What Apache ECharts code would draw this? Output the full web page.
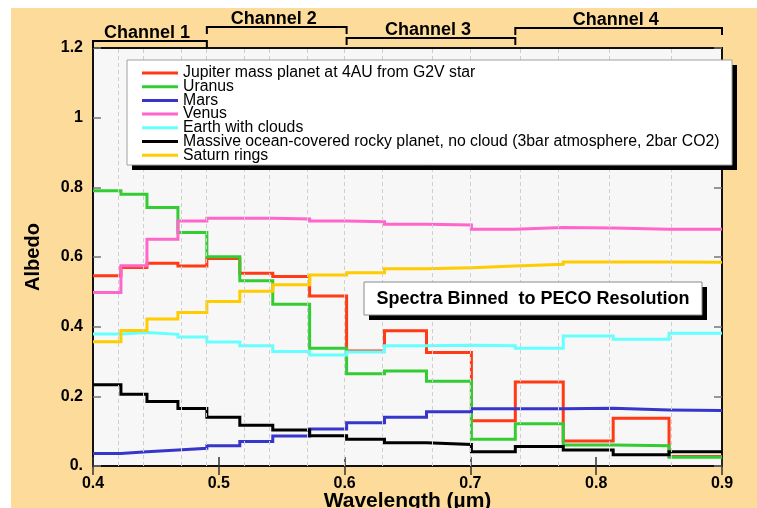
<!DOCTYPE html>
<html>
<head>
<meta charset="utf-8">
<script src="https://cdn.jsdelivr.net/npm/echarts@6/dist/echarts.min.js"></script>
<style>
  html, body { margin: 0; padding: 0; background: #ffffff; }
  #frame { position: absolute; left: 11px; top: 8px; width: 746px; height: 500px; background: #FDDB9A; }
  #chart { position: absolute; left: 0; top: 0; width: 757px; height: 508px; }
</style>
</head>
<body>
<div id="frame"></div>
<div id="chart"></div>
<script>
// Bin edges of the PECO spectral resolution elements (µm)
const binEdges = [0.4, 0.4222, 0.4429, 0.4675, 0.4905, 0.5167, 0.5429, 0.5722, 0.6016,
                  0.6317, 0.6651, 0.7008, 0.7357, 0.7738, 0.8135, 0.8579, 0.9];

// Binned albedo per resolution element
const jupiter = [0.546, 0.570, 0.582, 0.574, 0.596, 0.553, 0.544, 0.488, 0.330, 0.388, 0.326, 0.130, 0.241, 0.072, 0.137, 0.027];
const uranus  = [0.790, 0.780, 0.742, 0.670, 0.601, 0.532, 0.464, 0.338, 0.265, 0.273, 0.243, 0.077, 0.121, 0.060, 0.058, 0.025];
const mars    = [0.036, 0.041, 0.046, 0.051, 0.058, 0.070, 0.086, 0.106, 0.124, 0.140, 0.156, 0.164, 0.164, 0.166, 0.161, 0.159];
const venus   = [0.498, 0.575, 0.651, 0.703, 0.711, 0.711, 0.709, 0.703, 0.701, 0.694, 0.692, 0.680, 0.685, 0.683, 0.680, 0.680];
const earth   = [0.379, 0.383, 0.378, 0.370, 0.356, 0.345, 0.329, 0.319, 0.327, 0.345, 0.347, 0.345, 0.338, 0.373, 0.364, 0.381];
const ocean   = [0.233, 0.206, 0.185, 0.165, 0.140, 0.117, 0.103, 0.087, 0.077, 0.067, 0.062, 0.041, 0.056, 0.046, 0.032, 0.041];
const saturn  = [0.357, 0.389, 0.422, 0.441, 0.472, 0.502, 0.520, 0.548, 0.555, 0.566, 0.569, 0.574, 0.579, 0.586, 0.586, 0.585];

const seriesNames = [
  'Jupiter mass planet at 4AU from G2V star',
  'Uranus',
  'Mars',
  'Venus',
  'Earth with clouds',
  'Massive ocean-covered rocky planet, no cloud (3bar atmosphere, 2bar CO2)',
  'Saturn rings'
];
const seriesValues = [jupiter, uranus, mars, venus, earth, ocean, saturn];
const seriesColors = ['#FF3A14', '#33CC33', '#3636CC', '#FF66CC', '#66FFFF', '#000000', '#FFCC00'];

// Channels, given as ranges of bin-edge indices
const channels = [
  { name: 'Channel 1', from: 0, to: 4 },
  { name: 'Channel 2', from: 4, to: 8 },
  { name: 'Channel 3', from: 8, to: 12 },
  { name: 'Channel 4', from: 12, to: 16 }
];
const xTicks = { min: 0.4, max: 0.9, step: 0.1 };
const yTicks = { min: 0, max: 1.2, step: 0.2 };

const FONT = "'Liberation Sans', Arial, Helvetica, sans-serif";

// Turn binned values into a stepped polyline (flat across each bin)
function stepData(values) {
  const out = [];
  values.forEach((v, i) => {
    out.push([binEdges[i], v]);
    out.push([binEdges[i + 1], v]);
  });
  return out;
}

const chart = echarts.init(document.getElementById('chart'), null, { renderer: 'canvas' });

const series = [{
  type: 'line',
  name: '__edges',
  data: [],
  silent: true,
  z: 1,
  markLine: {
    silent: true,
    symbol: 'none',
    label: { show: false },
    lineStyle: { color: '#cfcfcf', type: [4, 3], width: 1 },
    data: binEdges.slice(1, -1).map(e => ({ xAxis: e }))
  }
}];
seriesValues.forEach((vals, i) => {
  series.push({
    type: 'line',
    name: seriesNames[i],
    data: stepData(vals),
    showSymbol: false,
    symbol: 'none',
    animation: false,
    z: 2,
    itemStyle: { color: seriesColors[i] },
    lineStyle: { color: seriesColors[i], width: 3, join: 'miter' }
  });
});

const option = {
  animation: false,
  backgroundColor: 'transparent',
  grid: {
    left: 93, right: 35, top: 48, bottom: 42,
    outerBoundsMode: 'none', containLabel: false,
    show: true, backgroundColor: '#F7F7F7', borderColor: '#111', borderWidth: 2
  },
  xAxis: [{
    type: 'value', min: xTicks.min, max: xTicks.max, interval: xTicks.step,
    name: 'Wavelength (µm)', nameLocation: 'middle', nameGap: 25, nameMoveOverlap: false,
    nameTextStyle: { fontFamily: FONT, fontWeight: 'bold', fontSize: 21, color: '#000' },
    axisLine: { show: false },
    axisTick: { inside: true, length: 9, lineStyle: { color: '#333', width: 1.5 } },
    axisLabel: { fontFamily: FONT, fontWeight: 'bold', fontSize: 16, color: '#000', margin: 10,
                 formatter: v => v.toFixed(1) },
    splitLine: { show: false }
  }, {
    type: 'value', position: 'top', min: xTicks.min, max: xTicks.max, interval: xTicks.step,
    axisLine: { show: false },
    axisTick: { inside: true, length: 9, lineStyle: { color: '#333', width: 1.5 } },
    axisLabel: { show: false },
    splitLine: { show: false }
  }],
  yAxis: [{
    type: 'value', min: yTicks.min, max: yTicks.max, interval: yTicks.step,
    name: 'Albedo', nameLocation: 'middle', nameGap: 50, nameMoveOverlap: false,
    nameTextStyle: { fontFamily: FONT, fontWeight: 'bold', fontSize: 20, color: '#000' },
    axisLine: { show: false },
    axisTick: { inside: true, length: 8, lineStyle: { color: '#777', width: 1.5 } },
    axisLabel: { fontFamily: FONT, fontWeight: 'bold', fontSize: 16, color: '#000', margin: 10,
                 formatter: v => (v === 0 ? '0.' : String(+v.toFixed(1))) },
    splitLine: { show: false }
  }, {
    type: 'value', position: 'right', min: yTicks.min, max: yTicks.max, interval: yTicks.step,
    axisLine: { show: false },
    axisTick: { inside: true, length: 8, lineStyle: { color: '#777', width: 1.5 } },
    axisLabel: { show: false },
    splitLine: { show: false }
  }],
  legend: {
    data: seriesNames,
    orient: 'vertical',
    left: 142, top: 65,
    itemWidth: 36, itemHeight: 3, itemGap: -2.3,
    icon: 'rect',
    padding: 0,
    z: 20,
    selectedMode: false,
    textStyle: { fontFamily: FONT, fontSize: 15.8, lineHeight: 13, color: '#000' }
  },
  series: series
};
chart.setOption(option);

// Annotation layer: channel brackets, legend frame and the caption box
const graphics = [];
const topY = chart.convertToPixel({ yAxisIndex: 0 }, yTicks.max);
const bracketRows = [7, 21, 10, 20];   // height of each bracket above the frame
channels.forEach((c, k) => {
  const x0 = chart.convertToPixel({ xAxisIndex: 0 }, binEdges[c.from]);
  const x1 = chart.convertToPixel({ xAxisIndex: 0 }, binEdges[c.to]);
  const yb = topY - bracketRows[k];
  graphics.push({
    type: 'polyline', z: 5, silent: true,
    shape: { points: [[x0, yb + 7], [x0, yb], [x1, yb], [x1, yb + 7]] },
    style: { stroke: '#000', lineWidth: 2, fill: null }
  });
  graphics.push({
    type: 'text', z: 5, silent: true,
    x: (x0 + x1) / 2 - 3, y: yb - 8,
    style: { text: c.name, font: 'bold 18px ' + FONT, fill: '#000',
             textAlign: 'center', textVerticalAlign: 'middle' }
  });
});

// Legend frame with a drop shadow
graphics.push({ type: 'rect', z: 10, silent: true,
  shape: { x: 132, y: 65, width: 605, height: 105 }, style: { fill: '#000' } });
graphics.push({ type: 'rect', z: 11, silent: true,
  shape: { x: 127, y: 60, width: 605, height: 105 },
  style: { fill: '#ffffff', stroke: '#a0a0a0', lineWidth: 1 } });

// Caption box
graphics.push({ type: 'rect', z: 10, silent: true,
  shape: { x: 369, y: 287, width: 338, height: 33 }, style: { fill: '#000' } });
graphics.push({ type: 'rect', z: 11, silent: true,
  shape: { x: 364, y: 282, width: 338, height: 33 },
  style: { fill: '#ffffff', stroke: '#8a8a8a', lineWidth: 1 } });
graphics.push({ type: 'text', z: 12, silent: true,
  x: 533, y: 299,
  style: { text: 'Spectra Binned  to PECO Resolution', font: 'bold 18px ' + FONT, fill: '#000',
           textAlign: 'center', textVerticalAlign: 'middle' } });

chart.setOption({ graphic: { elements: graphics } });
</script>
</body>
</html>
